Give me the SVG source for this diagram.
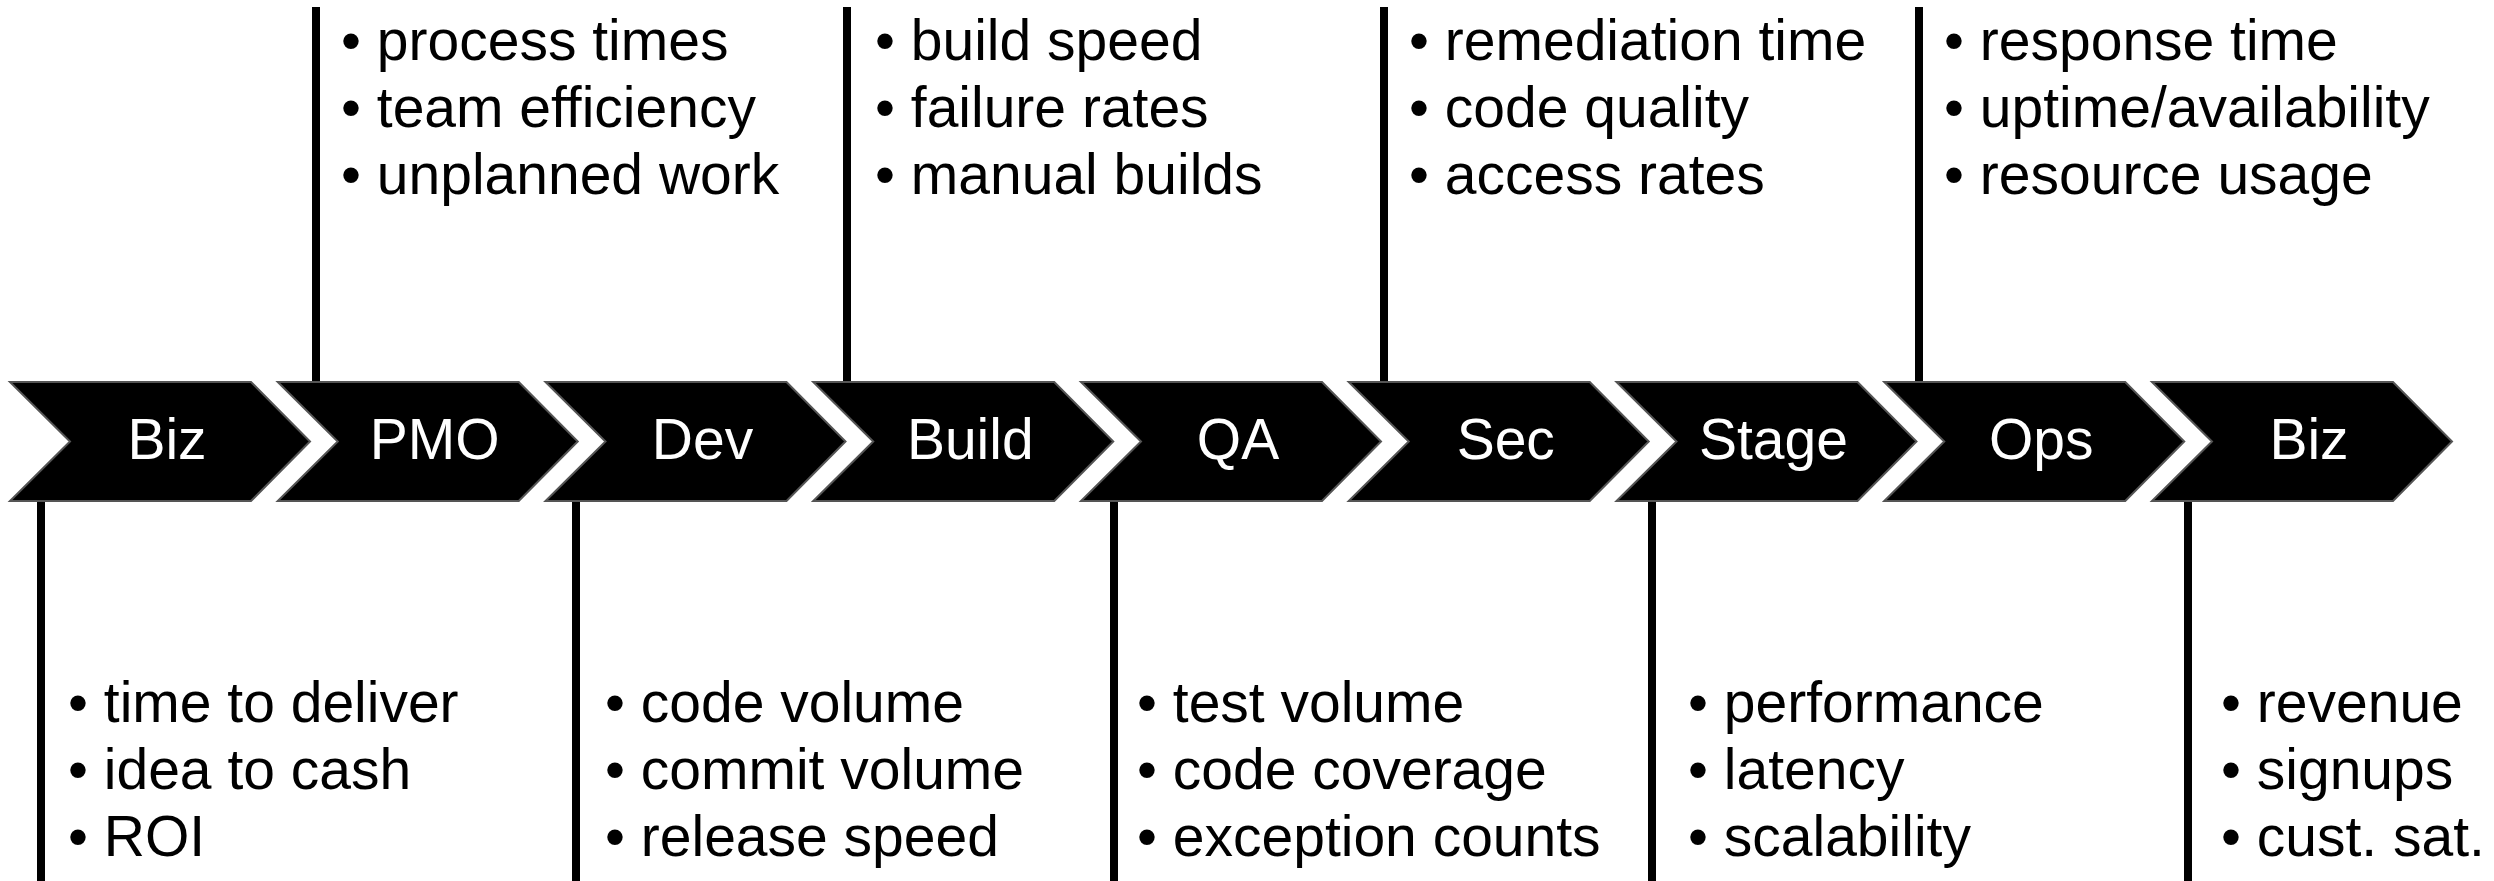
<svg xmlns="http://www.w3.org/2000/svg" xmlns:xlink="http://www.w3.org/1999/xlink" width="2494" height="881" viewBox="0 0 2494 881">
<style>
.chev{fill:#000;stroke:#555;stroke-width:2;stroke-linejoin:miter}
.lbl{font-family:"Liberation Sans",Arial,sans-serif;font-size:57px;fill:#fff;text-anchor:middle}
.lst{font-family:"Liberation Sans",Arial,sans-serif;font-size:57px;fill:#000}
.conn{stroke:#000;stroke-width:8;fill:none}
</style>
<defs>
<path id="chev" class="chev" d="M0,382 H241 L300,441.5 L241,501 H0 L60,441.5 Z"/>
</defs>
<rect width="2494" height="881" fill="#fff"/>
<g id="connectors">
<line class="conn" x1="316" y1="7" x2="316" y2="382"/>
<line class="conn" x1="847" y1="7" x2="847" y2="382"/>
<line class="conn" x1="1384" y1="7" x2="1384" y2="382"/>
<line class="conn" x1="1919" y1="7" x2="1919" y2="382"/>
<line class="conn" x1="41" y1="501" x2="41" y2="881"/>
<line class="conn" x1="576" y1="501" x2="576" y2="881"/>
<line class="conn" x1="1114" y1="501" x2="1114" y2="881"/>
<line class="conn" x1="1652" y1="501" x2="1652" y2="881"/>
<line class="conn" x1="2188" y1="501" x2="2188" y2="881"/>
</g>
<g id="n-biz1" transform="translate(10,0)"><use xlink:href="#chev"/><text class="lbl" x="157" y="459">Biz</text></g>
<g id="n-pmo" transform="translate(277.75,0)"><use xlink:href="#chev"/><text class="lbl" x="157" y="459">PMO</text></g>
<g id="n-dev" transform="translate(545.5,0)"><use xlink:href="#chev"/><text class="lbl" x="157" y="459">Dev</text></g>
<g id="n-build" transform="translate(813.25,0)"><use xlink:href="#chev"/><text class="lbl" x="157" y="459">Build</text></g>
<g id="n-qa" transform="translate(1081,0)"><use xlink:href="#chev"/><text class="lbl" x="157" y="459">QA</text></g>
<g id="n-sec" transform="translate(1348.75,0)"><use xlink:href="#chev"/><text class="lbl" x="157" y="459">Sec</text></g>
<g id="n-stage" transform="translate(1616.5,0)"><use xlink:href="#chev"/><text class="lbl" x="157" y="459">Stage</text></g>
<g id="n-ops" transform="translate(1884.25,0)"><use xlink:href="#chev"/><text class="lbl" x="157" y="459">Ops</text></g>
<g id="n-biz2" transform="translate(2152,0)"><use xlink:href="#chev"/><text class="lbl" x="157" y="459">Biz</text></g>
<g id="list-pmo"><text class="lst" x="341" y="60">• process times</text><text class="lst" x="341" y="127">• team efficiency</text><text class="lst" x="341" y="194">• unplanned work</text></g>
<g id="list-build"><text class="lst" x="875" y="60">• build speed</text><text class="lst" x="875" y="127">• failure rates</text><text class="lst" x="875" y="194">• manual builds</text></g>
<g id="list-sec"><text class="lst" x="1409" y="60">• remediation time</text><text class="lst" x="1409" y="127">• code quality</text><text class="lst" x="1409" y="194">• access rates</text></g>
<g id="list-ops"><text class="lst" x="1944" y="60">• response time</text><text class="lst" x="1944" y="127">• uptime/availability</text><text class="lst" x="1944" y="194">• resource usage</text></g>
<g id="list-biz1"><text class="lst" x="68" y="722">• time to deliver</text><text class="lst" x="68" y="789">• idea to cash</text><text class="lst" x="68" y="856">• ROI</text></g>
<g id="list-dev"><text class="lst" x="605" y="722">• code volume</text><text class="lst" x="605" y="789">• commit volume</text><text class="lst" x="605" y="856">• release speed</text></g>
<g id="list-qa"><text class="lst" x="1137" y="722">• test volume</text><text class="lst" x="1137" y="789">• code coverage</text><text class="lst" x="1137" y="856">• exception counts</text></g>
<g id="list-stage"><text class="lst" x="1688" y="722">• performance</text><text class="lst" x="1688" y="789">• latency</text><text class="lst" x="1688" y="856">• scalability</text></g>
<g id="list-biz2"><text class="lst" x="2221" y="722">• revenue</text><text class="lst" x="2221" y="789">• signups</text><text class="lst" x="2221" y="856">• cust. sat.</text></g>
</svg>
